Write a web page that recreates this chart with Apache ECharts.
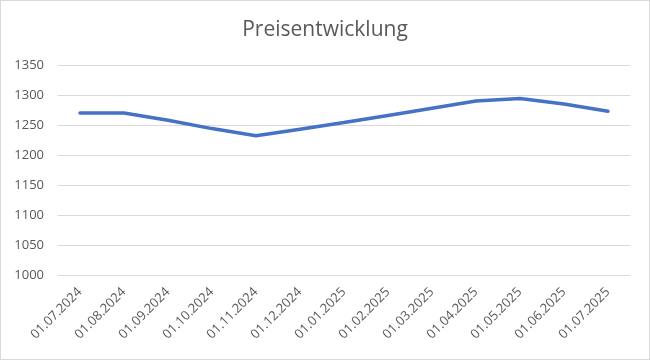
<!DOCTYPE html>
<html><head><meta charset="utf-8">
<script src="https://cdn.jsdelivr.net/npm/echarts@6/dist/echarts.min.js"></script>
<style>html,body{margin:0;padding:0;background:#fff}#c{width:648px;height:358px;border:1px solid #d9d9d9}</style>
</head><body><div id="c"></div>
<script>
const categories = ['01.07.2024','01.08.2024','01.09.2024','01.10.2024','01.11.2024','01.12.2024','01.01.2025','01.02.2025','01.03.2025','01.04.2025','01.05.2025','01.06.2025','01.07.2025'];
const prices = [1270,1270,1258,1244,1232,1243,1254,1266,1278,1290,1294,1285,1273];
const yMin = 1000, yMax = 1350, yStep = 50;
const chart = echarts.init(document.getElementById('c'));
chart.setOption({
  animation:false,
  title:{text:'Preisentwicklung',left:'center',top:14,textStyle:{fontFamily:'Open Sans',fontSize:21,fontWeight:'normal',color:'#595959'}},
  grid:{left:57,right:19,top:64,bottom:84},
  xAxis:{type:'category',data:categories,boundaryGap:true,
    axisLine:{lineStyle:{color:'#d9d9d9'}},axisTick:{show:false},
    axisLabel:{rotate:45,interval:0,color:'#595959',fontFamily:'Open Sans',fontSize:13,margin:15}},
  yAxis:{type:'value',min:yMin,max:yMax,interval:yStep,
    axisLine:{show:false},axisTick:{show:false},
    splitLine:{lineStyle:{color:'#d9d9d9'}},
    axisLabel:{color:'#595959',fontFamily:'Open Sans',fontSize:13,margin:14,formatter:v=>String(v)}},
  series:[{type:'line',data:prices,symbol:'none',lineStyle:{color:'#4472C4',width:3.5,cap:'round'}}]
});
</script></body></html>
